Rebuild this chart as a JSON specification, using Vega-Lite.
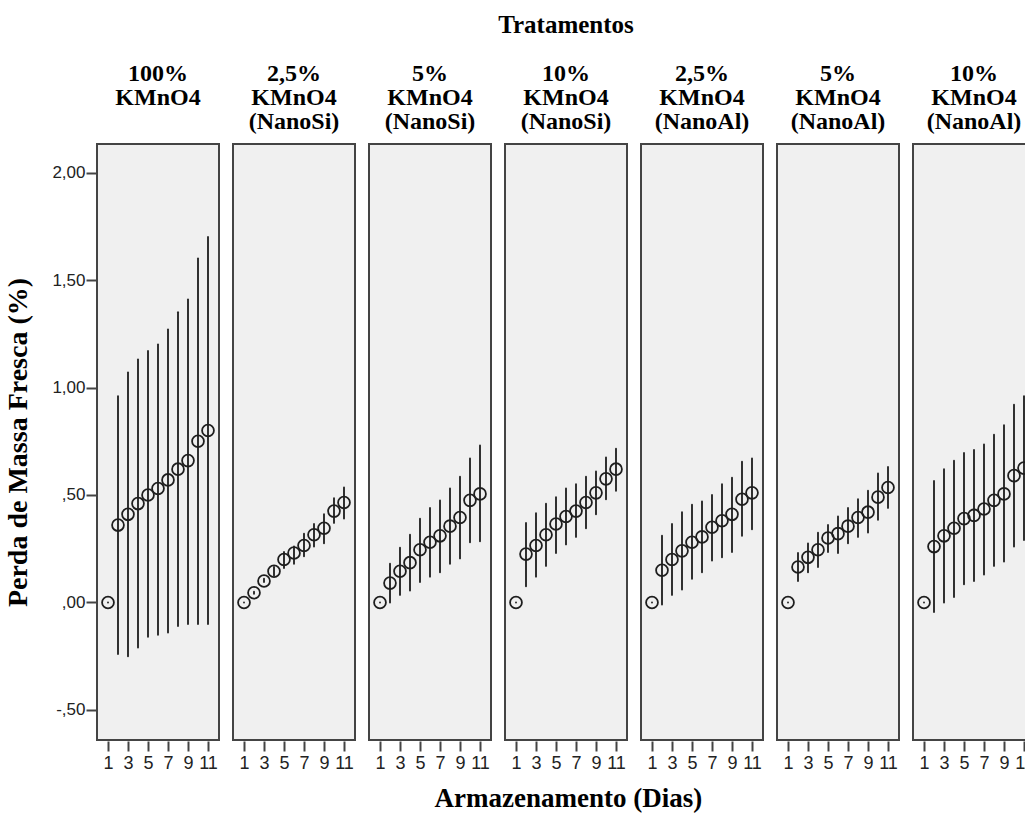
{
  "$schema": "https://vega.github.io/schema/vega-lite/v6.json",
  "background": "white",
  "padding": {"left": 4, "top": 13, "right": 0, "bottom": 4},
  "title": {
    "text": "Armazenamento (Dias)",
    "orient": "bottom",
    "anchor": "middle",
    "frame": "bounds",
    "dx": 48,
    "font": "Liberation Serif",
    "fontSize": 27,
    "fontWeight": "bold",
    "color": "black",
    "offset": 14
  },
  "data": {
    "values": [
      {"trat": "100% KMnO4", "dia": 1, "media": 0, "lo": 0, "hi": 0},
      {"trat": "100% KMnO4", "dia": 2, "media": 0.36, "lo": -0.24, "hi": 0.96},
      {"trat": "100% KMnO4", "dia": 3, "media": 0.41, "lo": -0.25, "hi": 1.07},
      {"trat": "100% KMnO4", "dia": 4, "media": 0.46, "lo": -0.21, "hi": 1.13},
      {"trat": "100% KMnO4", "dia": 5, "media": 0.50, "lo": -0.16, "hi": 1.17},
      {"trat": "100% KMnO4", "dia": 6, "media": 0.53, "lo": -0.15, "hi": 1.20},
      {"trat": "100% KMnO4", "dia": 7, "media": 0.57, "lo": -0.14, "hi": 1.27},
      {"trat": "100% KMnO4", "dia": 8, "media": 0.62, "lo": -0.11, "hi": 1.35},
      {"trat": "100% KMnO4", "dia": 9, "media": 0.66, "lo": -0.10, "hi": 1.41},
      {"trat": "100% KMnO4", "dia": 10, "media": 0.75, "lo": -0.10, "hi": 1.60},
      {"trat": "100% KMnO4", "dia": 11, "media": 0.80, "lo": -0.10, "hi": 1.70},

      {"trat": "2,5% KMnO4 (NanoSi)", "dia": 1, "media": 0, "lo": 0, "hi": 0},
      {"trat": "2,5% KMnO4 (NanoSi)", "dia": 2, "media": 0.045, "lo": 0.04, "hi": 0.05},
      {"trat": "2,5% KMnO4 (NanoSi)", "dia": 3, "media": 0.10, "lo": 0.095, "hi": 0.11},
      {"trat": "2,5% KMnO4 (NanoSi)", "dia": 4, "media": 0.145, "lo": 0.125, "hi": 0.165},
      {"trat": "2,5% KMnO4 (NanoSi)", "dia": 5, "media": 0.20, "lo": 0.16, "hi": 0.235},
      {"trat": "2,5% KMnO4 (NanoSi)", "dia": 6, "media": 0.23, "lo": 0.18, "hi": 0.26},
      {"trat": "2,5% KMnO4 (NanoSi)", "dia": 7, "media": 0.265, "lo": 0.215, "hi": 0.32},
      {"trat": "2,5% KMnO4 (NanoSi)", "dia": 8, "media": 0.315, "lo": 0.26, "hi": 0.365},
      {"trat": "2,5% KMnO4 (NanoSi)", "dia": 9, "media": 0.345, "lo": 0.275, "hi": 0.41},
      {"trat": "2,5% KMnO4 (NanoSi)", "dia": 10, "media": 0.425, "lo": 0.37, "hi": 0.485},
      {"trat": "2,5% KMnO4 (NanoSi)", "dia": 11, "media": 0.465, "lo": 0.39, "hi": 0.535},

      {"trat": "5% KMnO4 (NanoSi)", "dia": 1, "media": 0, "lo": 0, "hi": 0},
      {"trat": "5% KMnO4 (NanoSi)", "dia": 2, "media": 0.09, "lo": 0.0, "hi": 0.18},
      {"trat": "5% KMnO4 (NanoSi)", "dia": 3, "media": 0.145, "lo": 0.035, "hi": 0.255},
      {"trat": "5% KMnO4 (NanoSi)", "dia": 4, "media": 0.185, "lo": 0.055, "hi": 0.315},
      {"trat": "5% KMnO4 (NanoSi)", "dia": 5, "media": 0.245, "lo": 0.095, "hi": 0.39},
      {"trat": "5% KMnO4 (NanoSi)", "dia": 6, "media": 0.28, "lo": 0.12, "hi": 0.44},
      {"trat": "5% KMnO4 (NanoSi)", "dia": 7, "media": 0.31, "lo": 0.14, "hi": 0.475},
      {"trat": "5% KMnO4 (NanoSi)", "dia": 8, "media": 0.355, "lo": 0.18, "hi": 0.53},
      {"trat": "5% KMnO4 (NanoSi)", "dia": 9, "media": 0.395, "lo": 0.205, "hi": 0.585},
      {"trat": "5% KMnO4 (NanoSi)", "dia": 10, "media": 0.475, "lo": 0.28, "hi": 0.67},
      {"trat": "5% KMnO4 (NanoSi)", "dia": 11, "media": 0.505, "lo": 0.285, "hi": 0.73},

      {"trat": "10% KMnO4 (NanoSi)", "dia": 1, "media": 0, "lo": 0, "hi": 0},
      {"trat": "10% KMnO4 (NanoSi)", "dia": 2, "media": 0.225, "lo": 0.075, "hi": 0.37},
      {"trat": "10% KMnO4 (NanoSi)", "dia": 3, "media": 0.265, "lo": 0.12, "hi": 0.415},
      {"trat": "10% KMnO4 (NanoSi)", "dia": 4, "media": 0.315, "lo": 0.17, "hi": 0.46},
      {"trat": "10% KMnO4 (NanoSi)", "dia": 5, "media": 0.365, "lo": 0.23, "hi": 0.49},
      {"trat": "10% KMnO4 (NanoSi)", "dia": 6, "media": 0.40, "lo": 0.27, "hi": 0.53},
      {"trat": "10% KMnO4 (NanoSi)", "dia": 7, "media": 0.425, "lo": 0.305, "hi": 0.55},
      {"trat": "10% KMnO4 (NanoSi)", "dia": 8, "media": 0.465, "lo": 0.345, "hi": 0.585},
      {"trat": "10% KMnO4 (NanoSi)", "dia": 9, "media": 0.51, "lo": 0.41, "hi": 0.61},
      {"trat": "10% KMnO4 (NanoSi)", "dia": 10, "media": 0.575, "lo": 0.48, "hi": 0.675},
      {"trat": "10% KMnO4 (NanoSi)", "dia": 11, "media": 0.62, "lo": 0.52, "hi": 0.715},

      {"trat": "2,5% KMnO4 (NanoAl)", "dia": 1, "media": 0, "lo": 0, "hi": 0},
      {"trat": "2,5% KMnO4 (NanoAl)", "dia": 2, "media": 0.15, "lo": -0.01, "hi": 0.31},
      {"trat": "2,5% KMnO4 (NanoAl)", "dia": 3, "media": 0.20, "lo": 0.035, "hi": 0.365},
      {"trat": "2,5% KMnO4 (NanoAl)", "dia": 4, "media": 0.24, "lo": 0.06, "hi": 0.42},
      {"trat": "2,5% KMnO4 (NanoAl)", "dia": 5, "media": 0.28, "lo": 0.11, "hi": 0.455},
      {"trat": "2,5% KMnO4 (NanoAl)", "dia": 6, "media": 0.305, "lo": 0.14, "hi": 0.47},
      {"trat": "2,5% KMnO4 (NanoAl)", "dia": 7, "media": 0.35, "lo": 0.195, "hi": 0.50},
      {"trat": "2,5% KMnO4 (NanoAl)", "dia": 8, "media": 0.38, "lo": 0.21, "hi": 0.55},
      {"trat": "2,5% KMnO4 (NanoAl)", "dia": 9, "media": 0.41, "lo": 0.235, "hi": 0.58},
      {"trat": "2,5% KMnO4 (NanoAl)", "dia": 10, "media": 0.48, "lo": 0.31, "hi": 0.655},
      {"trat": "2,5% KMnO4 (NanoAl)", "dia": 11, "media": 0.51, "lo": 0.34, "hi": 0.67},

      {"trat": "5% KMnO4 (NanoAl)", "dia": 1, "media": 0, "lo": 0, "hi": 0},
      {"trat": "5% KMnO4 (NanoAl)", "dia": 2, "media": 0.165, "lo": 0.10, "hi": 0.23},
      {"trat": "5% KMnO4 (NanoAl)", "dia": 3, "media": 0.21, "lo": 0.14, "hi": 0.275},
      {"trat": "5% KMnO4 (NanoAl)", "dia": 4, "media": 0.245, "lo": 0.165, "hi": 0.325},
      {"trat": "5% KMnO4 (NanoAl)", "dia": 5, "media": 0.30, "lo": 0.235, "hi": 0.36},
      {"trat": "5% KMnO4 (NanoAl)", "dia": 6, "media": 0.32, "lo": 0.23, "hi": 0.40},
      {"trat": "5% KMnO4 (NanoAl)", "dia": 7, "media": 0.355, "lo": 0.275, "hi": 0.44},
      {"trat": "5% KMnO4 (NanoAl)", "dia": 8, "media": 0.395, "lo": 0.305, "hi": 0.48},
      {"trat": "5% KMnO4 (NanoAl)", "dia": 9, "media": 0.42, "lo": 0.325, "hi": 0.52},
      {"trat": "5% KMnO4 (NanoAl)", "dia": 10, "media": 0.49, "lo": 0.385, "hi": 0.60},
      {"trat": "5% KMnO4 (NanoAl)", "dia": 11, "media": 0.535, "lo": 0.44, "hi": 0.63},

      {"trat": "10% KMnO4 (NanoAl)", "dia": 1, "media": 0, "lo": 0, "hi": 0},
      {"trat": "10% KMnO4 (NanoAl)", "dia": 2, "media": 0.26, "lo": -0.045, "hi": 0.565},
      {"trat": "10% KMnO4 (NanoAl)", "dia": 3, "media": 0.31, "lo": 0.0, "hi": 0.62},
      {"trat": "10% KMnO4 (NanoAl)", "dia": 4, "media": 0.345, "lo": 0.025, "hi": 0.66},
      {"trat": "10% KMnO4 (NanoAl)", "dia": 5, "media": 0.39, "lo": 0.085, "hi": 0.695},
      {"trat": "10% KMnO4 (NanoAl)", "dia": 6, "media": 0.405, "lo": 0.10, "hi": 0.71},
      {"trat": "10% KMnO4 (NanoAl)", "dia": 7, "media": 0.435, "lo": 0.13, "hi": 0.735},
      {"trat": "10% KMnO4 (NanoAl)", "dia": 8, "media": 0.475, "lo": 0.17, "hi": 0.78},
      {"trat": "10% KMnO4 (NanoAl)", "dia": 9, "media": 0.505, "lo": 0.19, "hi": 0.825},
      {"trat": "10% KMnO4 (NanoAl)", "dia": 10, "media": 0.59, "lo": 0.26, "hi": 0.92},
      {"trat": "10% KMnO4 (NanoAl)", "dia": 11, "media": 0.625, "lo": 0.29, "hi": 0.96}
    ]
  },
  "facet": {
    "column": {
      "field": "trat",
      "type": "nominal",
      "sort": [
        "100% KMnO4",
        "2,5% KMnO4 (NanoSi)",
        "5% KMnO4 (NanoSi)",
        "10% KMnO4 (NanoSi)",
        "2,5% KMnO4 (NanoAl)",
        "5% KMnO4 (NanoAl)",
        "10% KMnO4 (NanoAl)"
      ],
      "header": {
        "title": "Tratamentos",
        "labelExpr": "split(indexof(datum.value, '(') < 0 ? datum.value + ' ' : datum.value, ' ')"
      }
    }
  },
  "spacing": 12,
  "spec": {
    "width": 122,
    "height": 596,
    "layer": [
      {
        "mark": {"type": "rule", "strokeWidth": 1.9, "strokeCap": "round", "color": "#262626"},
        "encoding": {
          "x": {
            "field": "dia",
            "type": "quantitative",
            "scale": {"domain": [-0.1, 12.1], "nice": false, "zero": false},
            "axis": {"values": [1, 3, 5, 7, 9, 11], "title": null, "labelOverlap": false, "labelFlush": false, "labelBound": false, "labelSeparation": 0}
          },
          "y": {
            "field": "lo",
            "type": "quantitative",
            "scale": {"domain": [-0.64, 2.133], "nice": false, "zero": false},
            "axis": {
              "values": [-0.5, 0, 0.5, 1, 1.5, 2],
              "title": "Perda de Massa Fresca (%)",
              "labelExpr": "replace(replace(replace(format(datum.value, '.2f'), '.', ','), '0,', ','), '\u2212', '-')"
            }
          },
          "y2": {"field": "hi"}
        }
      },
      {
        "mark": {"type": "point", "shape": "circle", "filled": false, "size": 140, "strokeWidth": 1.8, "color": "#1e1e1e", "opacity": 1},
        "encoding": {
          "x": {
            "field": "dia",
            "type": "quantitative",
            "axis": {"values": [1, 3, 5, 7, 9, 11], "title": null, "labelOverlap": false, "labelFlush": false, "labelBound": false, "labelSeparation": 0}
          },
          "y": {"field": "media", "type": "quantitative", "axis": {"title": "Perda de Massa Fresca (%)"}}
        }
      }
    ]
  },
  "config": {
    "view": {"fill": "#f0f0f0", "stroke": "#444444", "strokeWidth": 2},
    "axis": {"grid": false, "domain": false, "labelOverlap": false, "labelColor": "#222222", "tickColor": "#444444", "tickWidth": 2, "tickSize": 10},
    "axisX": {"labelFont": "Liberation Sans", "labelFontSize": 18, "labelPadding": 3, "labelOverlap": false},
    "axisY": {
      "labelFont": "Liberation Sans",
      "labelFontSize": 17,
      "labelPadding": 1,
      "titleFont": "Liberation Serif",
      "titleFontSize": 28,
      "titleFontWeight": "bold",
      "titleColor": "black",
      "titlePadding": 19
    },
    "header": {
      "titleFont": "Liberation Serif",
      "titleFontSize": 25,
      "titleFontWeight": "bold",
      "titleColor": "black",
      "titlePadding": 14,
      "labelFont": "Liberation Serif",
      "labelFontSize": 24,
      "labelFontWeight": "bold",
      "labelColor": "black",
      "labelLineHeight": 24,
      "labelBaseline": "top",
      "labelPadding": 9
    }
  }
}
